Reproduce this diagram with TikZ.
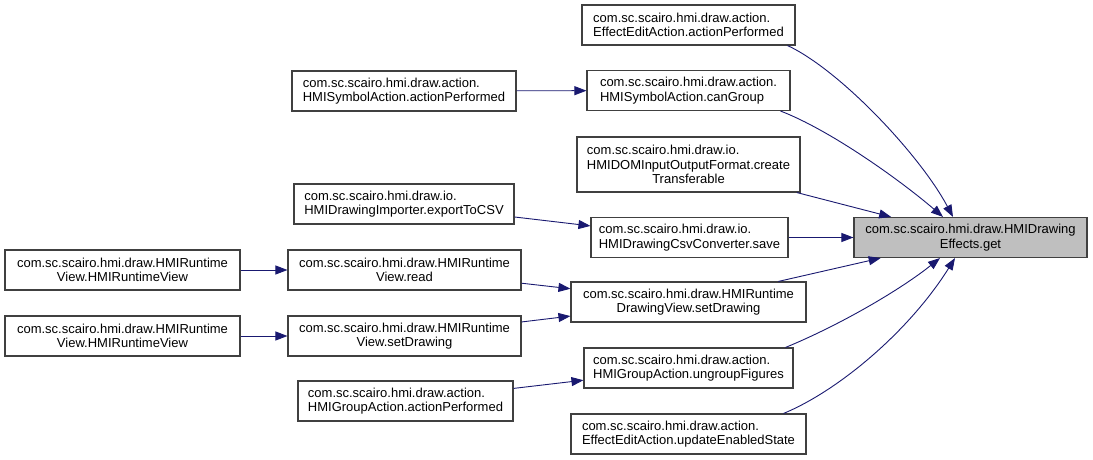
\documentclass[tikz,border=0pt]{standalone}
\usepackage{fontspec}
\setmainfont{Liberation Sans}
\usetikzlibrary{arrows.meta}
\definecolor{edgeblue}{HTML}{191970}
\definecolor{boxline}{HTML}{404040}
\definecolor{targetfill}{HTML}{BFBFBF}
\begin{document}
\begin{tikzpicture}[x=1bp,y=-1bp,
  fn/.style={draw=boxline, line width=1.1bp, fill=white, inner sep=0pt,
    font=\fontsize{13bp}{14.5bp}\selectfont, text=black, minimum height=40bp},
  fnl/.style={fn, align=left},
  fnc/.style={fn, align=center},
  edge/.style={draw=edgeblue, line width=0.9bp, -{Triangle[length=12bp,width=9bp]}}]
\useasboundingbox (0,0) rectangle (1093,460);
% column 3
\node[fnl, minimum width=213bp] (n1) at (688.5,25) {com.sc.scairo.hmi.draw.action.\\EffectEditAction.actionPerformed};
\node[fnl, minimum width=203bp] (n3) at (688.5,90.5) {com.sc.scairo.hmi.draw.action.\\HMISymbolAction.canGroup};
\node[fnc, minimum width=223bp, minimum height=55bp] (n4) at (688.5,164.5) {\rlap{com.sc.scairo.hmi.draw.io.}\phantom{HMIDOMInputOutputFormat.create}\\HMIDOMInputOutputFormat.create\\Transferable};
\node[fnl, minimum width=197bp] (n6) at (689.5,237.5) {com.sc.scairo.hmi.draw.io.\\HMIDrawingCsvConverter.save};
\node[fnc, minimum width=235bp] (n10) at (688.5,302) {com.sc.scairo.hmi.draw.HMIRuntime\\DrawingView.setDrawing};
\node[fnl, minimum width=209bp] (n13) at (688.5,368) {com.sc.scairo.hmi.draw.action.\\HMIGroupAction.ungroupFigures};
\node[fnl, minimum width=235bp] (n15) at (688.5,434) {com.sc.scairo.hmi.draw.action.\\EffectEditAction.updateEnabledState};
% target
\node[fnc, fill=targetfill, minimum width=233bp] (n7) at (970.5,237.5) {com.sc.scairo.hmi.draw.HMIDrawing\\Effects.get};
% column 2
\node[fnl, minimum width=224bp] (n2) at (404,91) {com.sc.scairo.hmi.draw.action.\\HMISymbolAction.actionPerformed};
\node[fnl, minimum width=220bp] (n5) at (404,204) {com.sc.scairo.hmi.draw.io.\\HMIDrawingImporter.exportToCSV};
\node[fnc, minimum width=233bp] (n9) at (404.5,270) {com.sc.scairo.hmi.draw.HMIRuntime\\View.read};
\node[fnc, minimum width=233bp] (n12) at (404.5,336) {com.sc.scairo.hmi.draw.HMIRuntime\\View.setDrawing};
\node[fnl, minimum width=215bp] (n14) at (405.5,401) {com.sc.scairo.hmi.draw.action.\\HMIGroupAction.actionPerformed};
% column 1
\node[fnc, minimum width=235bp] (n8) at (122.5,270) {com.sc.scairo.hmi.draw.HMIRuntime\\View.HMIRuntimeView};
\node[fnc, minimum width=235bp] (n11) at (122.5,336) {com.sc.scairo.hmi.draw.HMIRuntime\\View.HMIRuntimeView};
% edges
\draw[edge] (n2) -- (n3);
\draw[edge] (n5) -- (n6);
\draw[edge] (n8) -- (n9);
\draw[edge] (n11) -- (n12);
\draw[edge] (n9) -- (n10);
\draw[edge] (n12) -- (n10);
\draw[edge] (n14) -- (n13);
\draw[edge] (n6) -- (n7);
\draw[edge] (n4) -- (n7);
\draw[edge] (n10) -- (n7);
\draw[edge] ([xshift=-8bp]n1.south east) .. controls (840,70) and (920,155) .. ([xshift=-17.5bp]n7.north);
\draw[edge] ([xshift=-10bp]n3.south east) .. controls (830,130) and (900,180) .. ([xshift=-27.5bp]n7.north);
\draw[edge] ([xshift=-8bp]n13.north east) .. controls (840,325) and (900,290) .. ([xshift=-30.5bp]n7.south);
\draw[edge] ([xshift=-23bp]n15.north east) .. controls (840,390) and (910,330) .. ([xshift=-15.5bp]n7.south);
\end{tikzpicture}
\end{document}
